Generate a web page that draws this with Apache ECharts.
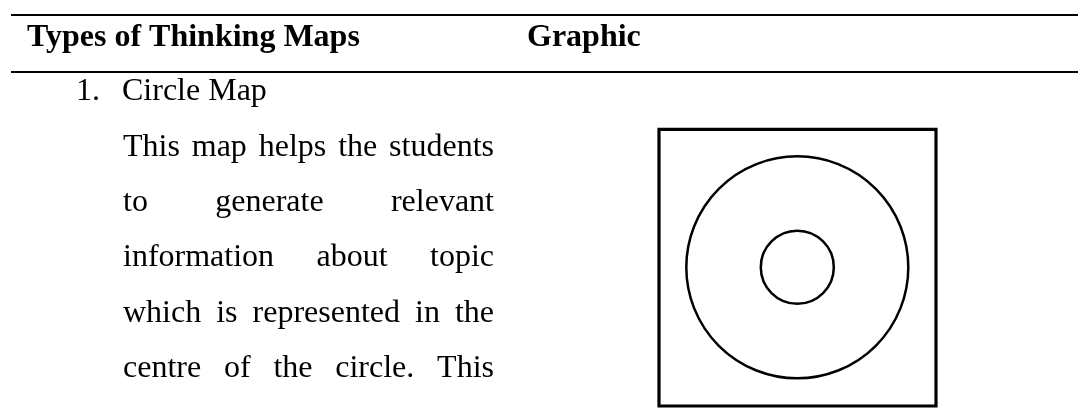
<!DOCTYPE html>
<html>
<head>
<meta charset="utf-8">
<script src="https://cdn.jsdelivr.net/npm/echarts@6/dist/echarts.min.js"></script>
<style>
  html, body { margin: 0; padding: 0; background: #fff; }
  #chart { width: 1078px; height: 419px; }
</style>
</head>
<body>
<div id="chart"></div>
<script>
// table texts
var headers = ['Types of Thinking Maps', 'Graphic'];
var itemNumber = '1.';
var itemTitle = 'Circle Map';
var bodyLines = [
    'This map helps the students',
    'to generate relevant',
    'information about topic',
    'which is represented in the',
    'centre of the circle. This'
];
// circle map drawing: outer and inner radius (px)
var circleRadii = [111, 36.5];

var FONT_FAMILY = '"Liberation Serif", "Times New Roman", serif';
var FS = 32;
var bodyFont = FS + 'px ' + FONT_FAMILY;
var boldFont = 'bold ' + FS + 'px ' + FONT_FAMILY;

// canvas for measuring words (justified text)
var measureCtx = document.createElement('canvas').getContext('2d');
function textWidth(str, font) {
    measureCtx.font = font;
    return measureCtx.measureText(str).width;
}

// baseline -> middle offset
function midY(baseline) {
    return baseline - FS * 0.27;
}

function textEl(str, x, baseline, font) {
    return {
        type: 'text',
        x: x,
        y: midY(baseline),
        style: {
            text: str,
            font: font,
            fill: '#000',
            align: 'left',
            verticalAlign: 'middle'
        }
    };
}

function justifiedLine(str, left, right, baseline) {
    var words = str.split(' ');
    var total = 0;
    words.forEach(function (w) { total += textWidth(w, bodyFont); });
    var gap = words.length > 1 ? (right - left - total) / (words.length - 1) : 0;
    var x = left;
    var els = [];
    words.forEach(function (w) {
        els.push(textEl(w, x, baseline, bodyFont));
        x += textWidth(w, bodyFont) + gap;
    });
    return els;
}

var elements = [];
// rules of the table
elements.push({type: 'line', shape: {x1: 11, y1: 15, x2: 1078, y2: 15}, style: {stroke: '#000', lineWidth: 2}});
elements.push({type: 'line', shape: {x1: 11, y1: 72, x2: 1078, y2: 72}, style: {stroke: '#000', lineWidth: 2}});

// header
elements.push(textEl(headers[0], 27, 46, boldFont));
elements.push(textEl(headers[1], 527, 46, boldFont));

// first row
elements.push(textEl(itemNumber, 76, 100, bodyFont));
elements.push(textEl(itemTitle, 122, 100, bodyFont));

var baselines = [156, 211, 266, 322, 377];
bodyLines.forEach(function (line, i) {
    elements = elements.concat(justifiedLine(line, 123, 494, baselines[i]));
});

// graphic: box + two circles
elements.push({
    type: 'rect',
    shape: {x: 659, y: 129.3, width: 277, height: 276.7},
    style: {fill: 'none', stroke: '#000', lineWidth: 3.2}
});
circleRadii.forEach(function (r) {
    elements.push({
        type: 'circle',
        shape: {cx: 797.3, cy: 267.3, r: r},
        style: {fill: 'none', stroke: '#000', lineWidth: 2.5}
    });
});

var chart = echarts.init(document.getElementById('chart'));
chart.setOption({
    backgroundColor: '#fff',
    animation: false,
    graphic: elements
});
</script>
</body>
</html>
